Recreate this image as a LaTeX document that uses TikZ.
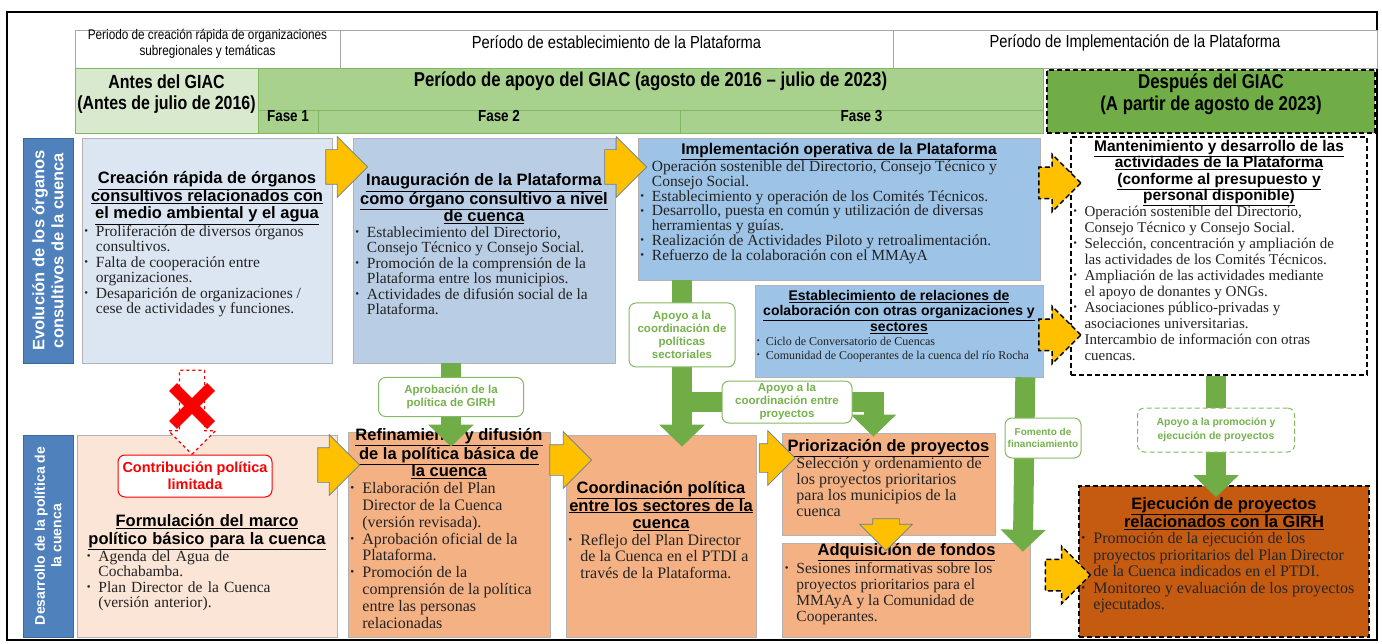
\documentclass[tikz,border=0pt]{standalone}
\usepackage{fontspec}
\usepackage{graphicx}
\setmainfont{Liberation Serif}
\setsansfont{Liberation Sans}
\newfontfamily\narrowsf[FakeStretch=0.84]{Liberation Sans}
\usetikzlibrary{shapes.arrows,arrows.meta,calc,fit}

\definecolor{hdEdge}{RGB}{166,166,166}
\definecolor{gLight}{RGB}{216,233,205}
\definecolor{gMid}{RGB}{169,209,142}
\definecolor{gDark}{RGB}{112,173,71}
\definecolor{gEdge}{RGB}{130,182,96}
\definecolor{barBlue}{RGB}{79,129,189}
\definecolor{bluePale}{RGB}{220,230,242}
\definecolor{blueMid}{RGB}{185,205,229}
\definecolor{blueDeep}{RGB}{157,195,230}
\definecolor{peach}{RGB}{251,229,214}
\definecolor{orangeBox}{RGB}{244,177,131}
\definecolor{rust}{RGB}{197,90,17}
\definecolor{arrYellow}{RGB}{255,192,0}
\definecolor{arrEdge}{RGB}{100,125,160}
\definecolor{arrGreen}{RGB}{112,173,71}
\definecolor{lblGreen}{RGB}{118,178,78}
\definecolor{txtDark}{RGB}{35,35,35}
\definecolor{redMark}{RGB}{250,0,0}

\newcommand{\uln}[1]{\underline{#1}}
\newcommand{\ttl}[2][\fontsize{16.5}{17.5}\selectfont]{{\centering\sffamily\bfseries#1\color{black}#2\par}}
\newcommand{\bl}[1]{\par{\raggedright\let\\\newline\hangindent=0.9em\hangafter=1\noindent\makebox[0.9em][l]{\hspace{0.15em}\raisebox{0.25ex}{\scalebox{0.7}{\textbullet}}}#1\par}}

\pgfdeclarelayer{boxes}
\pgfdeclarelayer{links}
\pgfsetlayers{boxes,links,main}

\tikzset{
  hcell/.style={draw=hdEdge, line width=0.6pt, fill=white, inner sep=0pt, align=center},
  gcell/.style={draw=gEdge, line width=0.6pt, inner sep=0pt, align=center, text=black},
  sidebar/.style={fill=barBlue, draw=barBlue!80!black, line width=0.5pt, inner sep=0pt},
  sidetext/.style={text=white, font=\sffamily\bfseries\fontsize{16.5}{19}\selectfont, align=center, rotate=90},
  cbox/.style={draw=gray!60, line width=0.6pt, inner sep=0pt, align=left, text=txtDark, font=\fontsize{15.5}{15.5}\selectfont},
  dashbox/.style={draw=black, line width=1.6pt, dash pattern=on 5pt off 3pt},
  yarr/.style={single arrow, draw=arrEdge, line width=0.7pt, fill=arrYellow, inner xsep=0pt, inner ysep=17pt, single arrow head extend=13pt, minimum height=42pt},
  yarrdash/.style={yarr, draw=black, line width=1.5pt, dash pattern=on 5pt off 3pt},
  garr/.style={draw=arrGreen, line width=20pt, -{Triangle[width=44pt,length=22pt]}},
  glbl/.style={draw=arrGreen!85, line width=1pt, rounded corners=7pt, fill=white, text=lblGreen, font=\sffamily\bfseries\fontsize{11.5}{13}\selectfont, align=center, inner sep=2pt},
  redlbl/.style={draw=redMark, line width=1pt, rounded corners=7pt, fill=white, text=redMark, font=\sffamily\bfseries\fontsize{14.5}{16.5}\selectfont, align=center, minimum width=154pt, minimum height=42pt}
}

\begin{document}
\begin{tikzpicture}[x=1pt,y=-1pt]
\useasboundingbox (0,0) rectangle (1382,644);
\draw[line width=1.2pt] (7,12) rectangle (1377,640);

% periodos
\node[hcell, fit={(75,30)(340,68)}, font=\narrowsf\fontsize{14}{16}\selectfont] (perRap) {Periodo de creación rápida de organizaciones\\subregionales y temáticas};
\node[hcell, fit={(340,30)(893,68)}, font=\narrowsf\fontsize{17.5}{19}\selectfont] (perEst) {Período de establecimiento de la Plataforma};
\node[hcell, fit={(893,30)(1377,68)}, font=\narrowsf\fontsize{17.5}{19}\selectfont] (perImp) {Período de Implementación de la Plataforma};

% fases del GIAC
\node[gcell, fill=gLight, fit={(75,68)(258,133)}, font=\narrowsf\bfseries\fontsize{19}{21}\selectfont] (antes) {Antes del GIAC\\(Antes de julio de 2016)};
\node[gcell, fill=gMid, fit={(258,68)(1043,110)}, font=\narrowsf\bfseries\fontsize{20}{22}\selectfont] (apoyo) {Período de apoyo del GIAC (agosto de 2016 – julio de 2023)};
\node[gcell, fill=gMid, fit={(258,110)(318,133)}, font=\narrowsf\bfseries\fontsize{16}{17}\selectfont] (fase1) {Fase 1};
\node[gcell, fill=gMid, fit={(318,110)(680,133)}, font=\narrowsf\bfseries\fontsize{16}{17}\selectfont] (fase2) {Fase 2};
\node[gcell, fill=gMid, fit={(680,110)(1043,133)}, font=\narrowsf\bfseries\fontsize{16}{17}\selectfont] (fase3) {Fase 3};
\node[gcell, dashbox, fill=gDark, fit={(1047,70)(1375,133)}, font=\narrowsf\bfseries\fontsize{20}{22}\selectfont] (despues) {Después del GIAC\\(A partir de agosto de 2023)};

% barras laterales
\node[sidebar, fit={(23,138)(73,363)}] (barEvol) {};
\node[sidetext] (txtEvol) at (barEvol) {Evolución de los órganos\\consultivos de la cuenca};
\node[sidebar, fit={(23,435)(73,637)}] (barPol) {};
\node[sidetext, font=\sffamily\bfseries\fontsize{14}{16.5}\selectfont] (txtPol) at (barPol) {Desarrollo de la política de\\la cuenca};

\begin{pgfonlayer}{boxes}
% organos consultivos
\node[cbox, fill=bluePale, fit={(77,138)(337,363)}, text width=250pt] (creac) {%
\ttl{\uln{Creación rápida de órganos}\\\uln{consultivos relacionados con}\\\uln{el medio ambiental y el agua}}
\bl{Proliferación de diversos órganos\\consultivos.}
\bl{Falta de cooperación entre\\organizaciones.}
\bl{Desaparición de organizaciones /\\cese de actividades y funciones.}};
\node[cbox, fill=blueMid, fit={(345,138)(623,363)}, text width=262pt] (inaug) {%
\ttl{\uln{Inauguración de la Plataforma}\\\uln{como órgano consultivo a nivel}\\\uln{de cuenca}}
\bl{Establecimiento del Directorio,\\Consejo Técnico y Consejo Social.}
\bl{Promoción de la comprensión de la\\Plataforma entre los municipios.}
\bl{Actividades de difusión social de la\\Plataforma.}};
\node[cbox, fill=blueDeep, fit={(630,138)(1048,280)}, text width=402pt, font=\fontsize{15.5}{14.8}\selectfont] (implOp) {%
\ttl[\fontsize{15.5}{17}\selectfont]{\uln{Implementación operativa de la Plataforma}}
\bl{Operación sostenible del Directorio, Consejo Técnico y\\Consejo Social.}
\bl{Establecimiento y operación de los Comités Técnicos.}
\bl{Desarrollo, puesta en común y utilización de diversas\\herramientas y guías.}
\bl{Realización de Actividades Piloto y retroalimentación.}
\bl{Refuerzo de la colaboración con el MMAyA}};
\node[cbox, fill=blueDeep, fit={(750,285)(1048,377)}, text width=288pt, font=\fontsize{12}{14}\selectfont] (colab) {%
\ttl[\fontsize{14}{15.5}\selectfont]{\uln{Establecimiento de relaciones de}\\\uln{colaboración con otras organizaciones y}\\\uln{sectores}}
\bl{Ciclo de Conversatorio de Cuencas}
\bl{Comunidad de Cooperantes de la cuenca del río Rocha}};
\node[cbox, dashbox, fill=white, fit={(1065,137)(1373,375)}, text width=296pt, font=\fontsize{15}{16}\selectfont] (mant) {%
\ttl[\fontsize{15.5}{16.5}\selectfont]{\uln{Mantenimiento y desarrollo de las}\\\uln{actividades de la Plataforma}\\\uln{(conforme al presupuesto y}\\\uln{personal disponible)}}
\bl{Operación sostenible del Directorio,\\Consejo Técnico y Consejo Social.}
\bl{Selección, concentración y ampliación de\\las actividades de los Comités Técnicos.}
\bl{Ampliación de las actividades mediante\\el apoyo de donantes y ONGs.}
\bl{Asociaciones público-privadas y\\asociaciones universitarias.}
\bl{Intercambio de información con otras\\cuencas.}};

% politica de la cuenca
\node[cbox, fill=peach, fit={(77,435)(337,637)}] (marco) {};
\node[cbox, fill=orangeBox, fit={(343,432)(555,637)}, text width=202pt, font=\fontsize{16}{16.8}\selectfont] (refin) {%
\ttl{\uln{Refinamiento y difusión}\\\uln{de la política básica de}\\\uln{la cuenca}}
\bl{Elaboración del Plan\\Director de la Cuenca\\(versión revisada).}
\bl{Aprobación oficial de la\\Plataforma.}
\bl{Promoción de la\\comprensión de la política\\entre las personas\\relacionadas}};
\node[cbox, fill=orangeBox, fit={(562,435)(760,637)}, text width=190pt, font=\fontsize{16}{16.5}\selectfont] (coordP) {%
\ttl{\uln{Coordinación política}\\\uln{entre los sectores de la}\\\uln{cuenca}}
\bl{Reflejo del Plan Director\\de la Cuenca en el PTDI a\\través de la Plataforma.}};
\node[cbox, fill=orangeBox, fit={(775,433)(1002,535)}, text width=213pt, font=\fontsize{16}{16}\selectfont] (prior) {%
\ttl{\uln{Priorización de proyectos}}
\bl{Selección y ordenamiento de\\los proyectos prioritarios\\para los municipios de la\\cuenca}};
\node[cbox, fill=orangeBox, fit={(775,543)(1038,637)}, text width=248pt, font=\fontsize{15.5}{16}\selectfont] (fondos) {%
\ttl{\uln{Adquisición de fondos}}
\bl{Sesiones informativas sobre los\\proyectos prioritarios para el\\MMAyA y la Comunidad de\\Cooperantes.}};
\node[cbox, dashbox, fill=rust, text=black!85, fit={(1073,486)(1375,637)}, text width=290pt, font=\fontsize{16}{16.5}\selectfont] (ejec) {%
\ttl{\uln{Ejecución de proyectos}\\\uln{relacionados con la GIRH}}
\bl{Promoción de la ejecución de los\\proyectos prioritarios del Plan Director\\de la Cuenca indicados en el PTDI.}
\bl{Monitoreo y evaluación de los proyectos\\ejecutados.}};
\end{pgfonlayer}

\node[cbox, draw=none, text width=245pt] (marcoTxt) at (207,563) {%
\ttl{\uln{Formulación del marco}\\\uln{político básico para la cuenca}}
\bl{Agenda del Agua de\\Cochabamba.}
\bl{Plan Director de la Cuenca\\(versión anterior).}};
\node[redlbl] (contrib) at (195,476) {Contribución política\\limitada};

% etiquetas de apoyo
\node[glbl, minimum width=145pt, minimum height=39pt] (aprLbl) at (451,397) {Aprobación de la\\política de GIRH};
\node[glbl, minimum width=106pt, minimum height=64pt] (polLbl) at (682,335) {Apoyo a la\\coordinación de\\políticas\\sectoriales};
\node[glbl, minimum width=130pt, minimum height=42pt] (prjLbl) at (787,402) {Apoyo a la\\coordinación entre\\proyectos};
\node[glbl, minimum width=76pt, minimum height=40pt, font=\sffamily\bfseries\fontsize{10}{12}\selectfont] (finLbl) at (1043,438) {Fomento de\\financiamiento};
\node[glbl, dash pattern=on 5pt off 3pt, minimum width=157pt, minimum height=44pt, font=\sffamily\bfseries\fontsize{10.5}{14}\selectfont] (promLbl) at (1216,430) {Apoyo a la promoción y\\ejecución de proyectos};

\begin{pgfonlayer}{links}
\draw[garr] (inaug.south -| aprLbl) -- ($(refin.north -| aprLbl)+(0,15)$);
\draw[garr] (implOp.south -| polLbl) -- ($(coordP.north -| polLbl)+(0,12)$);
\draw[garr] (polLbl |- prjLbl) -| ($(prior.north)+(-15,4)$);
\draw[garr] ($(colab.south east)+(-18,0)$) -- ($(fondos.north east)+(-8,9)$);
\draw[garr] (mant.south -| promLbl) -- ($(ejec.north -| promLbl)+(0,12)$);
\end{pgfonlayer}

% flechas amarillas
\node[yarr] (arAB) at (338,167) {};
\node[yarr] (arBC) at (617,167) {};
\node[yarrdash, inner ysep=15pt] (arCE) at (1052,183) {};
\node[yarrdash, inner ysep=15pt] (arDE) at (1052,335) {};
\node[yarr] (arFG) at (330,465) {};
\node[yarr, inner ysep=15pt] (arGH) at (563,460) {};
\node[yarr, inner ysep=14pt, minimum height=36pt] (arHI) at (770,458) {};
\node[yarr, rotate=-90, inner ysep=13pt, minimum height=32pt] (arIJ) at (886,528) {};
\node[yarrdash, inner ysep=15pt, minimum height=45pt] (arJK) at (1060,575) {};

% contribucion limitada
\node[single arrow, rotate=-90, draw=redMark, dashed, line width=1.2pt, fill=white, inner xsep=0pt, inner ysep=12pt, single arrow head extend=11pt, minimum height=84pt] (noArr) at (192,406) {};
\draw[redMark, line width=11pt] ($(noArr)+(-19,-19)$) -- ($(noArr)+(19,19)$) ($(noArr)+(19,-19)$) -- ($(noArr)+(-19,19)$);
\end{tikzpicture}
\end{document}
